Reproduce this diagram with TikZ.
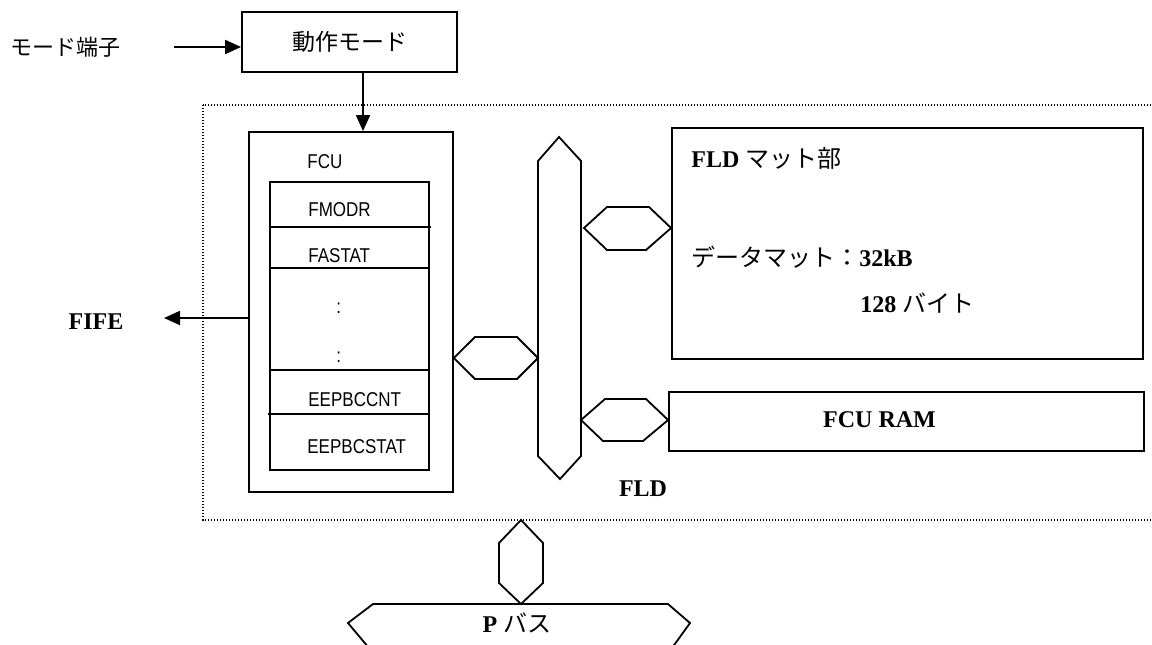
\documentclass[tikz,border=0pt]{standalone}
\usepackage{fontspec}
\setmainfont{Liberation Serif}
\newfontfamily\cjk{Noto Sans CJK JP}
\newfontfamily\regfont{Liberation Sans}[FakeStretch=0.85]
\newcommand{\jtext}[1]{{\cjk\mdseries\fontsize{12}{14}\selectfont #1}}
\usetikzlibrary{arrows.meta}

\begin{document}
\begin{tikzpicture}[
  x=0.5pt, y=-0.5pt,
  box/.style={rectangle, draw, line width=0.9pt, inner sep=0pt},
  reg/.style={inner sep=0pt, anchor=west, font=\regfont\fontsize{10}{12}\selectfont},
  lbl/.style={inner sep=0pt, font=\bfseries\fontsize{12}{14}\selectfont},
  jp/.style={inner sep=0pt, font=\cjk\fontsize{11}{13}\selectfont},
  line/.style={line width=0.9pt, line join=miter},
  arrow/.style={-{Triangle[length=8pt,width=7pt]}, line width=0.9pt},
  frame/.style={line width=0.6pt, dash pattern=on 0.6pt off 0.9pt}
]
  \useasboundingbox (0,0) rectangle (1152,644);

  % FLD frame
  \draw[frame] (203,105) rectangle (1162,520);

  % Top nodes
  \node[jp, anchor=west] (pin) at (10,47) {モード端子};
  \node[box, minimum width=107.5pt, minimum height=30pt, font=\cjk\fontsize{11.5}{13}\selectfont] (mode) at (349.5,42) {動作モード};

  % FCU and registers
  \node[box, minimum width=102pt, minimum height=180pt] (fcu) at (351,312) {};
  \node[box, minimum width=79.5pt, minimum height=144pt] (regs) at (349.5,326) {};
  \draw[line] (regs.west |- 0,227) -- (431,227);
  \draw[line] (regs.west |- 0,268) -- (regs.east |- 0,268);
  \draw[line] (regs.west |- 0,370) -- (regs.east |- 0,370);
  \draw[line] (268,414) -- (regs.east |- 0,414);
  \node[reg] (fculbl) at (307,162) {FCU};
  \node[reg] (fmodr) at (308,210) {FMODR};
  \node[reg] (fastat) at (308,256) {FASTAT};
  \node[reg] (dots1) at (336,308) {:};
  \node[reg] (dots2) at (336,357) {:};
  \node[reg] (eepcnt) at (308,400) {EEPBCCNT};
  \node[reg] (eepstat) at (307,447) {EEPBCSTAT};

  % FLD mat and RAM
  \node[box, minimum width=235.5pt, minimum height=115.5pt] (fldmat) at (907.5,243.5) {};
  \node[lbl, anchor=west] (matlbl) at (691,158) {FLD \jtext{マット部}};
  \node[lbl, anchor=west] (datlbl) at (691,257) {\jtext{データマット：}32kB};
  \node[lbl, anchor=west] (bytlbl) at (860,303) {128 \jtext{バイト}};
  \node[box, minimum width=237.5pt, minimum height=29.5pt] (fcuram) at (906.5,421.5) {};
  \node[lbl] (ramlbl) at (879.5,420) {FCU RAM};

  % Buses
  \draw[line] (559,137) -- (581,161) -- (581,456) -- (560,479) -- (538,456) -- (538,161) -- cycle;
  \draw[line] (fcu.east |- 0,358) -- (475,337) -- (517,337) -- (538,358) -- (517,379) -- (475,379) -- cycle;
  \draw[line] (584,228) -- (607,207) -- (649,207) -- (fldmat.west |- 0,228) -- (646,250) -- (607,250) -- cycle;
  \draw[line] (581,420) -- (605,399) -- (646,399) -- (fcuram.west |- 0,420) -- (643,441) -- (603,441) -- cycle;
  \node[lbl] (fldlbl) at (643,489) {FLD};
  \draw[line] (521,520) -- (543,543) -- (543,583) -- (521,604) -- (499,583) -- (499,543) -- cycle;
  \draw[line] (348,623) -- (373,604) -- (668,604) -- (690,623) -- (672,648) -- (369,648) -- cycle;
  \node[lbl] (pbus) at (517,623) {P \jtext{バス}};

  % FIFE
  \node[lbl] (fife) at (96,322) {FIFE};

  % Arrows
  \coordinate (pinstart) at (174,47);
  \coordinate (fifeend) at (164,318);
  \draw[arrow] (pinstart) -- (pinstart -| mode.west);
  \draw[arrow] ([xshift=6.75pt]mode.south) -- ([xshift=6pt]fcu.north);
  \draw[arrow] (fcu.west |- fifeend) -- (fifeend);
\end{tikzpicture}
\end{document}
